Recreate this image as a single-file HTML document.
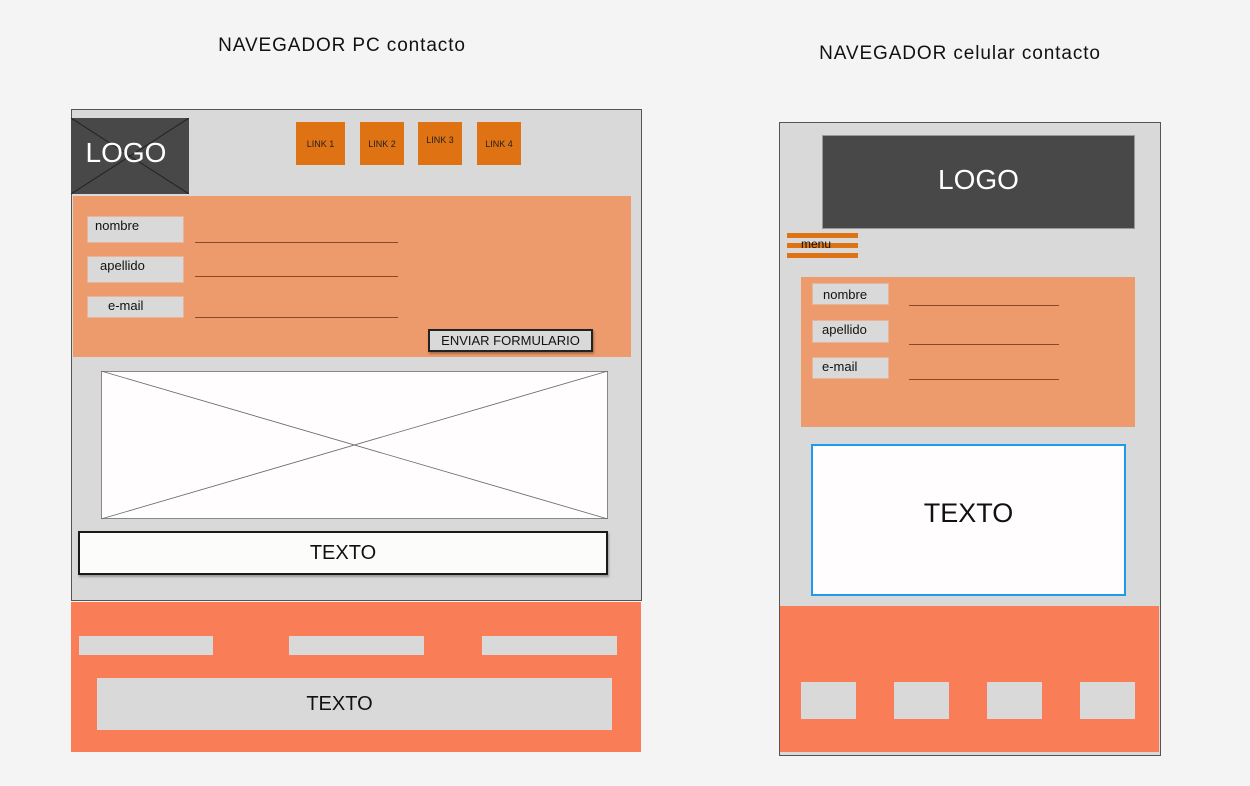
<!DOCTYPE html>
<html><head><meta charset="utf-8"><style>
body{margin:0;width:1250px;height:786px;background:#f4f4f4;position:relative;overflow:hidden;font-family:"Liberation Sans",sans-serif}
div{position:absolute;box-sizing:border-box}
.t{color:#111;white-space:nowrap}
.g{background:#d9d9d9}
.lk{background:#df7212;font-size:9px;color:#222;display:flex;align-items:center;justify-content:center}
.lb{background:#d9d9d9;border:1px solid #e6b59a;font-size:13px;color:#111}
.ln{height:1px;background:#8a4a2a}
.c{display:flex;align-items:center;justify-content:center}
</style></head><body>
<div class="t" style="left:0;width:684px;top:35px;text-align:center;font-size:19px;letter-spacing:0.9px">NAVEGADOR PC contacto</div>
<div class="t" style="left:760px;width:400px;top:43px;text-align:center;font-size:19px;letter-spacing:0.9px">NAVEGADOR celular contacto</div>

<!-- PC -->
<div style="left:71px;top:109px;width:571px;height:492px;background:#d9d9d9;border:1px solid #555"></div>
<div style="left:71px;top:118px;width:118px;height:76px;background:#484848"></div>
<svg style="position:absolute;left:71px;top:118px" width="118" height="76"><line x1="0" y1="0" x2="118" y2="76" stroke="#222"/><line x1="118" y1="0" x2="0" y2="76" stroke="#222"/></svg>
<div class="t c" style="left:71px;top:115px;width:110px;height:76px;color:#fff;font-size:28px">LOGO</div>
<div class="lk" style="left:296px;top:122px;width:49px;height:43px">LINK 1</div>
<div class="lk" style="left:360px;top:122px;width:44px;height:43px">LINK 2</div>
<div class="lk" style="left:418px;top:122px;width:44px;height:43px;align-items:flex-start;padding-top:13px">LINK 3</div>
<div class="lk" style="left:477px;top:122px;width:44px;height:43px">LINK 4</div>
<div style="left:73px;top:196px;width:558px;height:161px;background:#ed9a6c"></div>
<div class="lb" style="left:87px;top:216px;width:97px;height:27px;padding:1px 0 0 7px">nombre</div>
<div class="lb" style="left:87px;top:256px;width:97px;height:27px;padding:1px 0 0 12px">apellido</div>
<div class="lb" style="left:87px;top:296px;width:97px;height:22px;padding:1px 0 0 20px">e-mail</div>
<div class="ln" style="left:195px;top:242px;width:203px"></div>
<div class="ln" style="left:195px;top:276px;width:203px"></div>
<div class="ln" style="left:195px;top:317px;width:203px"></div>
<div class="t c" style="left:428px;top:329px;width:165px;height:23px;background:#d9d9d9;border:2px solid #222;font-size:13px;box-shadow:1px 2px 2px rgba(0,0,0,.3)">ENVIAR FORMULARIO</div>
<div style="left:101px;top:371px;width:507px;height:148px;background:#fffdfd;border:1px solid #888"></div>
<svg style="position:absolute;left:101px;top:371px" width="507" height="148"><line x1="0" y1="0" x2="507" y2="148" stroke="#666" stroke-width=".8"/><line x1="507" y1="0" x2="0" y2="148" stroke="#666" stroke-width=".8"/></svg>
<div class="t c" style="left:78px;top:531px;width:530px;height:44px;background:#fcfcfa;border:2px solid #1a1a1a;font-size:20px;box-shadow:1px 2px 2px rgba(0,0,0,.3)">TEXTO</div>
<div style="left:71px;top:602px;width:570px;height:150px;background:#f97e58"></div>
<div class="g" style="left:79px;top:636px;width:134px;height:19px"></div>
<div class="g" style="left:289px;top:636px;width:135px;height:19px"></div>
<div class="g" style="left:482px;top:636px;width:135px;height:19px"></div>
<div class="g t c" style="left:97px;top:678px;width:515px;height:52px;font-size:20px;padding-right:30px">TEXTO</div>

<!-- Mobile -->
<div style="left:779px;top:122px;width:382px;height:634px;background:#d9d9d9;border:1px solid #555"></div>
<div class="t c" style="left:822px;top:135px;width:313px;height:94px;background:#484848;color:#fff;font-size:28px;border:1px solid #999;padding-bottom:4px">LOGO</div>
<div style="left:787px;top:233px;width:71px;height:5px;background:#df7212"></div>
<div style="left:787px;top:243px;width:71px;height:5px;background:#df7212"></div>
<div style="left:787px;top:253px;width:71px;height:5px;background:#df7212"></div>
<div class="t" style="left:801px;top:237px;font-size:12px">menu</div>
<div style="left:801px;top:277px;width:334px;height:150px;background:#ed9a6c"></div>
<div class="lb" style="left:812px;top:283px;width:77px;height:22px;padding:3px 0 0 10px">nombre</div>
<div class="lb" style="left:812px;top:320px;width:77px;height:23px;padding:1px 0 0 9px">apellido</div>
<div class="lb" style="left:812px;top:357px;width:77px;height:22px;padding:1px 0 0 9px">e-mail</div>
<div class="ln" style="left:909px;top:305px;width:150px"></div>
<div class="ln" style="left:909px;top:344px;width:150px"></div>
<div class="ln" style="left:909px;top:379px;width:150px"></div>
<div class="t c" style="left:811px;top:444px;width:315px;height:152px;background:#fffdfd;border:2px solid #1e9bf0;font-size:27px;padding-bottom:14px">TEXTO</div>
<div style="left:780px;top:606px;width:379px;height:146px;background:#f97e58"></div>
<div class="g" style="left:801px;top:682px;width:55px;height:37px"></div>
<div class="g" style="left:894px;top:682px;width:55px;height:37px"></div>
<div class="g" style="left:987px;top:682px;width:55px;height:37px"></div>
<div class="g" style="left:1080px;top:682px;width:55px;height:37px"></div>
</body></html>
